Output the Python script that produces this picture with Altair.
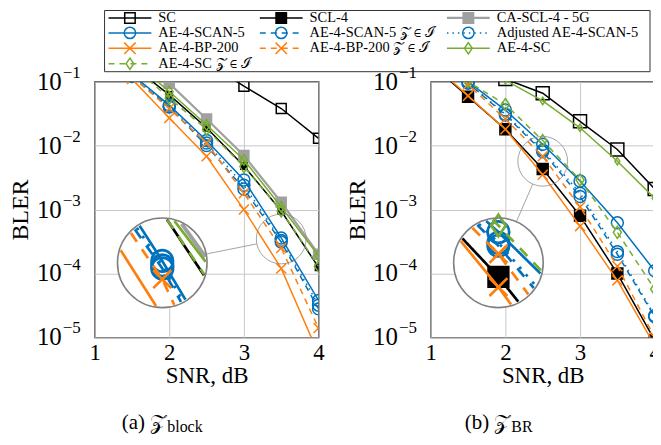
import math
import altair as alt
import numpy as np
import pandas as pd

# ---------------- data ----------------
SERIES = ["SC", "SCL-4", "CA-SCL-4 - 5G",
          "AE-4-SCAN-5", "AE-4-SCAN-5 𝒵 ∈ ℐ", "Adjusted AE-4-SCAN-5",
          "AE-4-BP-200", "AE-4-BP-200 𝒵 ∈ ℐ", "AE-4-SC",
          "AE-4-SC 𝒵 ∈ ℐ"]

SNR_A = [1.5, 2.0, 2.5, 3.0, 3.5, 4.0]
A_SC = [None, None, 0.2, 0.085, 0.038, 0.013]
A_SCL4 = [0.18, 0.062, 0.019, 0.0048, 0.00095, 0.000125]
A_CASCL = [0.3, 0.094, 0.026, 0.0070, 0.0013, 0.0002]
A_SCAN = [0.13, 0.043, 0.012, 0.0029, 0.00036, 0.000038]
A_SCAN_Z = [0.12, 0.040, 0.010, 0.0021, 0.00031, 0.000028]
A_SCAN_ADJ = [0.125, 0.041, 0.011, 0.0024, 0.00033, 0.000032]
A_BP = [0.11, 0.027, 0.0068, 0.0010, 0.00012, 0.0000055]
A_BP_Z = [0.12, 0.038, 0.011, 0.0018, 0.00025, 0.000014]
A_AESC = [0.22, 0.070, 0.021, 0.0060, 0.0011, 0.00019]
A_AESC_Z = [0.18, 0.055, 0.018, 0.0047, 0.00095, 0.00013]

SNR_B = [1.0, 1.5, 2.0, 2.5, 3.0, 3.5, 4.0]
B_SC = [None, 0.2, 0.11, 0.066, 0.024, 0.0087, 0.0021]
B_SCL4 = [0.19, 0.058, 0.018, 0.0043, 0.0008, 0.0001, 0.000009]
B_CASCL = [None, None, None, None, None, None, None]
B_SCAN = [0.3, 0.1, 0.036, 0.0105, 0.0028, 0.00062, 0.00011]
B_SCAN_Z = [0.28, 0.095, 0.030, 0.0080, 0.0016, 0.00020, 0.000021]
B_SCAN_ADJ = [0.28, 0.095, 0.031, 0.0085, 0.0018, 0.00022, 0.000022]
B_BP = [0.2, 0.06, 0.018, 0.0035, 0.00055, 0.000078, 0.0000075]
B_BP_Z = [0.28, 0.09, 0.026, 0.0068, 0.0011, 0.00013, 0.00001]
B_AESC = [None, 0.3, 0.105, 0.05, 0.019, 0.0057, 0.0015]
B_AESC_Z = [0.3, 0.1, 0.044, 0.012, 0.0029, 0.00044, 0.000057]

Y_TICKS = [1e-1, 1e-2, 1e-3, 1e-4, 1e-5]
Y_EXP = ["−1", "−2", "−3", "−4", "−5"]
X_TICKS = [1, 2, 3, 4]

# ---------------- styles ----------------
BLUE, ORANGE, GREEN, GRAY = "#0072BD", "#FF7F0E", "#77AC30", "#A0A0A0"
XPATH = "M-1,-1L1,1M-1,1L1,-1"
DIAMOND = "M0,-1L0.68,0L0,1L-0.68,0Z"
DASH, DOT = [6, 5], [1.5, 4]
STYLE = {
    "SC": dict(c="black", d=None, w=1.5, shape="square", fill="transparent", s=100),
    "SCL-4": dict(c="black", d=None, w=1.5, shape="square", fill="black", s=40),
    "CA-SCL-4 - 5G": dict(c=GRAY, d=None, w=2.2, shape="square", fill=GRAY, s=100),
    "AE-4-SCAN-5": dict(c=BLUE, d=None, w=1.5, shape="circle", fill="transparent", s=144),
    "AE-4-SCAN-5 𝒵 ∈ ℐ": dict(c=BLUE, d=DASH, w=1.5, shape="circle", fill="transparent", s=144),
    "Adjusted AE-4-SCAN-5": dict(c=BLUE, d=DOT, w=1.5, shape="circle", fill="transparent", s=144),
    "AE-4-BP-200": dict(c=ORANGE, d=None, w=1.5, shape=XPATH, fill="transparent", s=100),
    "AE-4-BP-200 𝒵 ∈ ℐ": dict(c=ORANGE, d=DASH, w=1.5, shape=XPATH, fill="transparent", s=100),
    "AE-4-SC": dict(c=GREEN, d=None, w=1.5, shape=DIAMOND, fill="transparent", s=121),
    "AE-4-SC 𝒵 ∈ ℐ": dict(c=GREEN, d=DASH, w=1.5, shape=DIAMOND, fill="transparent", s=144),
}
FONT = "Liberation Serif"
W, H = 225, 257
PX_X = W / 3.0
PX_DEC = H / 4.0
PLOT_LEFT = 93  # page x of left plot, used for legend placement

xs = alt.Scale(domain=[1, 4], nice=False, zero=False)
ys = alt.Scale(type="log", domain=[1e-5, 1e-1], nice=False)
xaxis = alt.Axis(values=X_TICKS, title="SNR, dB", grid=True, gridColor="#c8c8c8",
                 domain=False, ticks=False, labelFont=FONT, labelFontSize=23,
                 labelPadding=4, labelFlush=False, labelOverlap=False, format="d",
                 titleFont=FONT, titleFontSize=23, titleFontWeight="normal",
                 titlePadding=0, titleColor="black", labelColor="black")
yaxis = alt.Axis(values=Y_TICKS, labels=False, ticks=False, domain=False, grid=True,
                 gridColor="#c8c8c8", title="BLER", titleFont=FONT, titleFontSize=24,
                 titleFontWeight="normal", titlePadding=62, titleColor="black")


def X():
    return alt.X("x:Q", scale=xs, axis=xaxis)


def Y():
    return alt.Y("y:Q", scale=ys, axis=yaxis)


def line_kw(st, scale=1.0):
    kw = dict(color=st["c"], strokeWidth=st["w"] * scale, clip=True)
    if st["d"] is not None:
        kw["strokeDash"] = [v * scale for v in st["d"]]
    return kw


def point_kw(st, size_scale=1.0, scale=1.0):
    return dict(shape=st["shape"], size=st["s"] * size_scale, stroke=st["c"], fill=st["fill"],
                strokeWidth=1.5 * scale, opacity=1, fillOpacity=1, clip=True)


def series_layers(snr, values, size_scale):
    layers = []
    for name, vals in zip(SERIES, values):
        pts = [(x, v) for x, v in zip(snr, vals) if v is not None]
        if not pts:
            continue
        df = pd.DataFrame(pts, columns=["x", "y"])
        st = STYLE[name]
        layers.append(alt.Chart(df).mark_line(**line_kw(st)).encode(x=X(), y=Y()))
        layers.append(alt.Chart(df).mark_point(**point_kw(st, size_scale[name])).encode(x=X(), y=Y()))
    return layers


def lens_layers(snr, values, size_scale, sx, sy, lx, ly, M, rs, rl):
    layers = []
    small = pd.DataFrame({"x": [sx], "y": [10 ** sy]})
    layers.append(alt.Chart(small).mark_point(shape="circle", size=(2 * rs) ** 2, fill="transparent",
                                              stroke="#8c8c8c", strokeWidth=0.8, opacity=1)
                  .encode(x=X(), y=Y()))
    dxp, dyp = (sx - lx) * PX_X, (sy - ly) * PX_DEC
    d = math.hypot(dxp, dyp)
    ux, uy = dxp / d, dyp / d
    con = pd.DataFrame({"x": [lx + ux * rl / PX_X, sx - ux * rs / PX_X],
                        "y": [10 ** (ly + uy * rl / PX_DEC), 10 ** (sy - uy * rs / PX_DEC)],
                        "i": [0, 1]})
    layers.append(alt.Chart(con).mark_line(color="#8c8c8c", strokeWidth=0.8)
                  .encode(x=X(), y=Y(), order="i:Q"))
    big = pd.DataFrame({"x": [lx], "y": [10 ** ly]})
    layers.append(alt.Chart(big).mark_point(shape="circle", size=(2 * rl) ** 2, fill="white",
                                            stroke="white", strokeWidth=0.1, opacity=1, fillOpacity=1)
                  .encode(x=X(), y=Y()))
    for name, vals in zip(SERIES, values):
        pts = [(x, math.log10(v)) for x, v in zip(snr, vals) if v is not None]
        if len(pts) < 2:
            continue
        st = STYLE[name]
        rows, seg, prev, k = [], 0, False, 0
        for (x0, l0), (x1, l1) in zip(pts[:-1], pts[1:]):
            for t in np.linspace(0, 1, 300):
                X_ = lx + M * (x0 + (x1 - x0) * t - sx)
                L_ = ly + M * (l0 + (l1 - l0) * t - sy)
                dist = math.hypot((X_ - lx) * PX_X, (L_ - ly) * PX_DEC)
                if dist <= rl - 1.2:
                    if not prev:
                        seg += 1
                    rows.append((X_, 10 ** L_, seg, k))
                    k += 1
                    prev = True
                else:
                    prev = False
        if rows:
            df = pd.DataFrame(rows, columns=["x", "y", "seg", "i"])
            layers.append(alt.Chart(df).mark_line(**line_kw(st, M))
                          .encode(x=X(), y=Y(), detail="seg:N", order="i:Q"))
        mk = []
        for x, l in pts:
            X_ = lx + M * (x - sx)
            L_ = ly + M * (l - sy)
            if math.hypot((X_ - lx) * PX_X, (L_ - ly) * PX_DEC) < rl - 3:
                mk.append((X_, 10 ** L_))
        if mk:
            df = pd.DataFrame(mk, columns=["x", "y"])
            layers.append(alt.Chart(df).mark_point(**point_kw(st, size_scale[name] * M * M, M))
                          .encode(x=X(), y=Y()))
    layers.append(alt.Chart(big).mark_point(shape="circle", size=(2 * rl) ** 2, fill="transparent",
                                            stroke="#808080", strokeWidth=1.6, opacity=1)
                  .encode(x=X(), y=Y()))
    return layers


def tick_label_layers():
    df = pd.DataFrame({"y": Y_TICKS, "e": Y_EXP})
    base = alt.Chart(df)
    return [
        base.mark_text(text="10", align="right", baseline="middle", font=FONT, fontSize=25,
                       color="black").encode(x=alt.value(-33), y=Y()),
        base.mark_text(align="left", baseline="middle", dy=-9, font=FONT, fontSize=17,
                       color="black").encode(x=alt.value(-32), y=Y(), text="e:N"),
    ]


def caption_layers(tag, sub, xc):
    return [
        alt.Chart(pd.DataFrame({"a": [0]})).mark_text(text=tag, align="right", baseline="alphabetic",
                                                      font=FONT, fontSize=21, color="black")
        .encode(x=alt.value(xc), y=alt.value(349)),
        alt.Chart(pd.DataFrame({"a": [0]})).mark_text(text=sub, align="left", baseline="alphabetic",
                                                      font=FONT, fontSize=16, color="black")
        .encode(x=alt.value(xc + 1), y=alt.value(352)),
    ]


def legend_layers():
    layers = []
    col_line = [(107, 150), (259, 302), (447, 490)]
    col_text = [157, 309, 497]
    row_y = [16, 31, 46.5, 62]
    box = pd.DataFrame({"a": [0]})
    layers.append(alt.Chart(box).mark_rect(fill="white", stroke="#333333", strokeWidth=1)
                  .encode(x=alt.value(103 - PLOT_LEFT), x2=alt.value(651 - PLOT_LEFT),
                          y=alt.value(8.5 - 80), y2=alt.value(70 - 80)))
    for i, name in enumerate(SERIES):
        c, r = i % 3, i // 3
        st = STYLE[name]
        y = row_y[r] - 80
        x0, x1 = col_line[c][0] - PLOT_LEFT, col_line[c][1] - PLOT_LEFT
        kw = dict(color=st["c"], strokeWidth=st["w"])
        if st["d"] is not None:
            kw["strokeDash"] = st["d"]
        layers.append(alt.Chart(box).mark_rule(**kw)
                      .encode(x=alt.value(x0), x2=alt.value(x1), y=alt.value(y)))
        pk = point_kw(st)
        pk.pop("clip")
        pk["size"] = 130 if st["shape"] != "square" else 110
        layers.append(alt.Chart(box).mark_point(**pk)
                      .encode(x=alt.value((x0 + x1) / 2), y=alt.value(y)))
        layers.append(alt.Chart(box).mark_text(text=name, align="left", baseline="middle",
                                               font=FONT, fontSize=14.5, color="black")
                      .encode(x=alt.value(col_text[c] - PLOT_LEFT), y=alt.value(y)))
    return layers


SIZE_A = {n: 1.0 for n in SERIES}
SIZE_B = {n: 1.0 for n in SERIES}
SIZE_B["SC"] = 1.7
SIZE_B["SCL-4"] = 3.0
SIZE_B["AE-4-SC"] = 0.45

VALS_A = [A_SC, A_SCL4, A_CASCL, A_SCAN, A_SCAN_Z, A_SCAN_ADJ, A_BP, A_BP_Z, A_AESC, A_AESC_Z]
VALS_B = [B_SC, B_SCL4, B_CASCL, B_SCAN, B_SCAN_Z, B_SCAN_ADJ, B_BP, B_BP_Z, B_AESC, B_AESC_Z]

LX = 1 + 68 / PX_X
LY = -1 - 182 / PX_DEC

left = alt.layer(
    *tick_label_layers(),
    *series_layers(SNR_A, VALS_A, SIZE_A),
    *lens_layers(SNR_A, VALS_A, SIZE_A, 3.5, -3.46, LX, LY, 1.8, 25, 45),
    *caption_layers("(a)  𝒵", "block", 72),
    *legend_layers(),
).properties(width=W, height=H)

right = alt.layer(
    *tick_label_layers(),
    *series_layers(SNR_B, VALS_B, SIZE_B),
    *lens_layers(SNR_B, VALS_B, SIZE_B, 2.5, -2.245, LX, LY, 1.8, 25, 45),
    *caption_layers("(b)  𝒵", "BR", 80),
).properties(width=W, height=H)

chart = alt.hconcat(left, right, spacing=112.7, bounds="flush").properties(
    padding={"left": 0, "top": 0, "right": -9, "bottom": 0}
).configure_view(stroke="black", strokeWidth=1.2)

chart.save("out.html", embed_options={"renderer": "svg", "actions": False})
